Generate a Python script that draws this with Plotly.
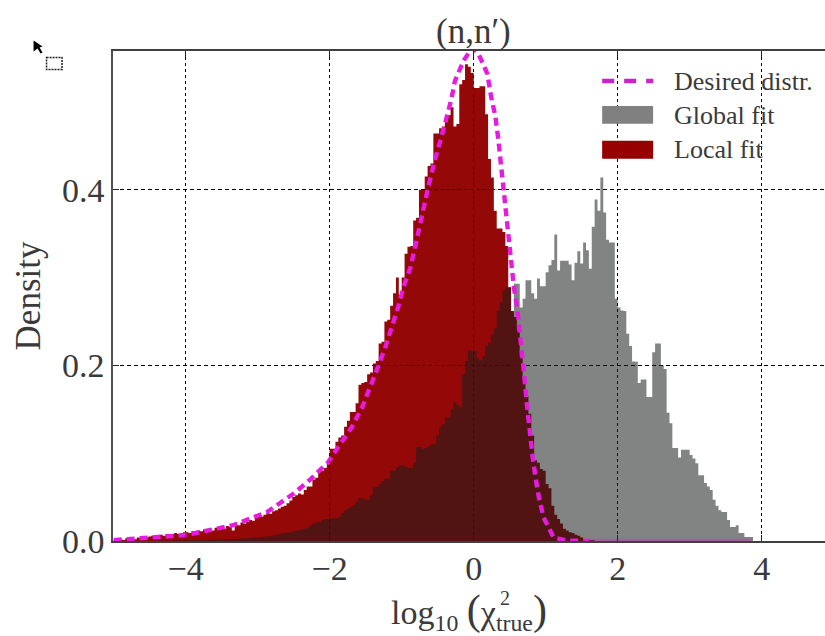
import plotly.graph_objects as go

BIN_WIDTH = 0.04
BIN_START = -5.0

local_fit = [
 .001,.002,.002,.001,.003,.002,.003,.002,.004,.003,.005,.004,.005,.006,.005,.006,.007,.006,.008,.007,.008,.009,.008,.009,.010,
 .010,.009,.011,.010,.012,.011,.013,.012,.014,.012,.015,.014,.016,.014,.017,.016,.012,.019,.018,.021,.020,.022,.024,.023,.027,
 .028,.028,.030,.032,.031,.034,.035,.037,.039,.040,.043,.046,.050,.052,.054,.053,.058,.062,.062,.070,.072,.079,.080,.083,.088,
 .105,.105,.113,.118,.120,.130,.137,.147,.147,.157,.178,.180,.181,.190,.192,.202,.205,.225,.227,.250,.252,.268,.282,.300,.280,
 .300,.327,.335,.336,.365,.368,.400,.400,.415,.427,.430,.464,.464,.470,.472,.478,.485,.494,.472,.475,.520,.525,.543,.540,.533,
 .516,.516,.518,.518,.486,.435,.414,.376,.356,.356,.352,.336,.289,.262,.255,.240,.210,.185,.165,.145,.120,.092,.089,.082,.080,
 .065,.060,.040,.030,.025,.020,.014,.012,.010,.009,.007,.006,.004,.002,.002,.001,.001,
]

global_fit = [
 .0002,.0002,.0002,.0002,.0002,.0002,.0003,.0003,.0003,.0003,.0003,.0004,.0004,.0004,.0004,.0005,.0005,.0005,.0006,.0006,.0006,.0007,.0007,.0008,.0008,
 .0008,.0009,.0009,.0010,.0010,.0011,.0012,.0012,.0013,.0014,.0015,.0016,.0017,.0018,.0019,.0020,.0021,.0022,.0024,.0026,.0028,.0030,.0033,.0036,.0040,
 .0045,.0045,.005,.005,.006,.006,.007,.008,.009,.009,.010,.010,.011,.012,.0125,.013,.014,.015,.018,.020,.021,.022,.024,.025,.025,
 .026,.026,.026,.028,.032,.035,.037,.039,.041,.045,.049,.049,.047,.047,.052,.061,.062,.065,.068,.071,.071,.080,.080,.084,.086,
 .086,.085,.083,.083,.090,.107,.107,.105,.106,.108,.110,.111,.120,.130,.133,.140,.141,.150,.158,.155,.152,.190,.205,.217,.217,
 .217,.208,.206,.210,.222,.226,.235,.242,.262,.272,.285,.289,.289,.260,.293,.293,.266,.276,.297,.297,.282,.276,.299,.290,.290,
 .306,.314,.320,.349,.308,.319,.319,.319,.315,.297,.317,.330,.316,.340,.331,.310,.358,.389,.376,.414,.374,.343,.340,.340,.276,
 .266,.2625,.262,.236,.222,.2045,.204,.180,.184,.184,.164,.164,.215,.225,.225,.200,.196,.146,.134,.106,.106,.095,.104,.104,.104,
 .098,.094,.0886,.075,.075,.066,.062,.058,.047,.040,.035,.033,.033,.024,.016,.016,.018,.009,.009,.0045,.0045,.0045,
]

desired_x = [-5.0,-4.0,-3.34,-2.87,-2.5,-2.27,-2.02,-1.85,-1.69,-1.55,-1.44,-1.33,-1.23,-1.13,-1.05,-0.98,-0.88,-0.81,-0.69,-0.62,
             -0.55,-0.48,-0.39,-0.31,-0.26,-0.14,-0.02,0.06,0.19,0.24,0.30,0.34,0.37,0.41,0.44,0.47,0.49,0.54,0.56,0.61,
             0.64,0.70,0.74,0.78,0.82,0.86,0.90,0.97,1.11,1.3,1.6]
desired_y = [.001,.0068,.018,.033,.054,.070,.090,.110,.130,.152,.174,.198,.220,.244,.266,.288,.311,.336,.384,.407,
             .430,.453,.478,.503,.524,.547,.562,.556,.532,.507,.484,.459,.436,.412,.387,.365,.339,.312,.288,.262,
             .240,.190,.155,.122,.095,.072,.052,.027,.004,.0005,0]
desired_tail_x = [1.6, 3.85]
desired_tail_y = [0, 0]

x_ticks = [-4, -2, 0, 2, 4]
y_ticks = [0.0, 0.2, 0.4]
y_tick_labels = ["0.0", "0.2", "0.4"]
legend_names = ["Desired distr.", "Global fit", "Local fit"]
title_text = "(n,n′)"
y_title = "Density"

W, H = 825, 636
L, T, B = 112.5, 50.5, 541.5
FONT = "Liberation Serif"
TEXT = "#3a3a3a"
RED = "rgba(146,0,0,0.97)"
GRAY = "rgba(28,30,30,0.55)"
MAGENTA = "#e61be0"

def step(values):
    xs = [BIN_START + BIN_WIDTH * i for i in range(len(values) + 1)]
    return xs, list(values) + [values[-1]]

def fx(v):
    return (v - L) / (W - L)

def fy(v):
    return (B - v) / (B - T)

fig = go.Figure()
lx, ly = step(local_fit)
gx, gy = step(global_fit)
fig.add_trace(go.Scatter(x=lx + [lx[-1]], y=ly + [0], mode="lines", line=dict(shape="hv", width=0), fill="tozeroy",
                         fillcolor=RED, name=legend_names[2], showlegend=False))
fig.add_trace(go.Scatter(x=gx + [gx[-1]], y=gy + [0], mode="lines", line=dict(shape="hv", width=0), fill="tozeroy",
                         fillcolor=GRAY, name=legend_names[1], showlegend=False))
fig.add_trace(go.Scatter(x=desired_x, y=desired_y, mode="lines", line=dict(color=MAGENTA, width=4.4, dash="8px,5px"),
                         name=legend_names[0], showlegend=False))
fig.add_trace(go.Scatter(x=desired_tail_x, y=desired_tail_y, mode="lines", opacity=0.35, line=dict(color=MAGENTA, width=4.4),
                         name=legend_names[0], showlegend=False))

shapes = []
# legend swatches
shapes.append(dict(type="line", xref="paper", yref="paper", x0=fx(602), x1=fx(653), y0=fy(80.5), y1=fy(80.5),
                   line=dict(color="#cc22cc", width=4.6, dash="12px,10px")))
shapes.append(dict(type="rect", xref="paper", yref="paper", x0=fx(602), x1=fx(653), y0=fy(105.5), y1=fy(123.5),
                   fillcolor="#808080", line=dict(width=0)))
shapes.append(dict(type="rect", xref="paper", yref="paper", x0=fx(602), x1=fx(653), y0=fy(140.5), y1=fy(158.5),
                   fillcolor="#960000", line=dict(width=0)))
# cursor artefact of the source image
cur = [(33, 40), (33, 51), (37, 48), (40, 53), (42, 52), (39, 47), (42, 46)]
path = "M" + " L".join(f"{fx(a):.5f},{fy(b):.5f}" for a, b in cur) + " Z"
shapes.append(dict(type="path", xref="paper", yref="paper", path=path, fillcolor="#000000", line=dict(width=0)))
shapes.append(dict(type="rect", xref="paper", yref="paper", x0=fx(46), x1=fx(61.5), y0=fy(57), y1=fy(69),
                   line=dict(color="#222222", width=1.5, dash="2px,1px")))
# gridlines faintly showing through the filled areas
for a, b, c, d in [(0, 0, 0, .53), (-1.37, .2, .52, .2), (-.63, .4, .33, .4), (-2, 0, -2, .1)]:
    shapes.append(dict(type="line", x0=a, y0=b, x1=c, y1=d, line=dict(color="rgba(0,0,0,0.3)", width=1, dash="3px,3px")))

ann = []
def text(t, x, y, size, anchor="left", angle=0):
    ann.append(dict(text=t, xref="paper", yref="paper", x=fx(x), y=fy(y), xanchor=anchor, yanchor="middle",
                    showarrow=False, textangle=angle, font=dict(family=FONT, size=size, color=TEXT)))

text(legend_names[0], 672, 81, 26)
text(legend_names[1], 672, 115, 26)
text(legend_names[2], 672, 149, 26)
text(title_text, 473.5, 31, 35, "center")
text("2", 505, 599, 20, "center")

fig.update_layout(
    width=W, height=H, margin=dict(l=L, r=0, t=T, b=H - B), paper_bgcolor="white", plot_bgcolor="white",
    showlegend=False, shapes=shapes, annotations=ann,
    font=dict(family=FONT, color=TEXT),
    xaxis=dict(range=[-5.01, 4.88], tickvals=x_ticks, showgrid=True, gridcolor="#000000", griddash="3px,3px", gridwidth=1,
               zeroline=False, showline=True, linecolor="#404040", linewidth=1.6, mirror="ticks", ticks="inside",
               ticklen=6, tickcolor="#222222", tickfont=dict(family=FONT, size=34, color=TEXT), ticklabelstandoff=-4,
               title=dict(text='log<sub>10</sub> <span style="font-size:42px">(</span>χ<sub>true</sub><span style="font-size:42px">)</span>',
                          font=dict(family=FONT, size=34, color=TEXT), standoff=0)),
    yaxis=dict(range=[0, 0.558], tickvals=y_ticks, ticktext=y_tick_labels, showgrid=True, gridcolor="#000000",
               griddash="4px,3px", gridwidth=1, zeroline=False, showline=True, linecolor="#505050", linewidth=1.6,
               ticks="inside", ticklen=6, tickcolor="#222222", tickfont=dict(family=FONT, size=34, color=TEXT),
               title=dict(text=y_title, font=dict(family=FONT, size=35, color=TEXT), standoff=11)),
)
fig.write_html("out.html", default_width=f"{W}px", default_height=f"{H}px", config=dict(displayModeBar=False),
               post_script="document.body.style.margin='0';document.documentElement.style.overflow='hidden';")
